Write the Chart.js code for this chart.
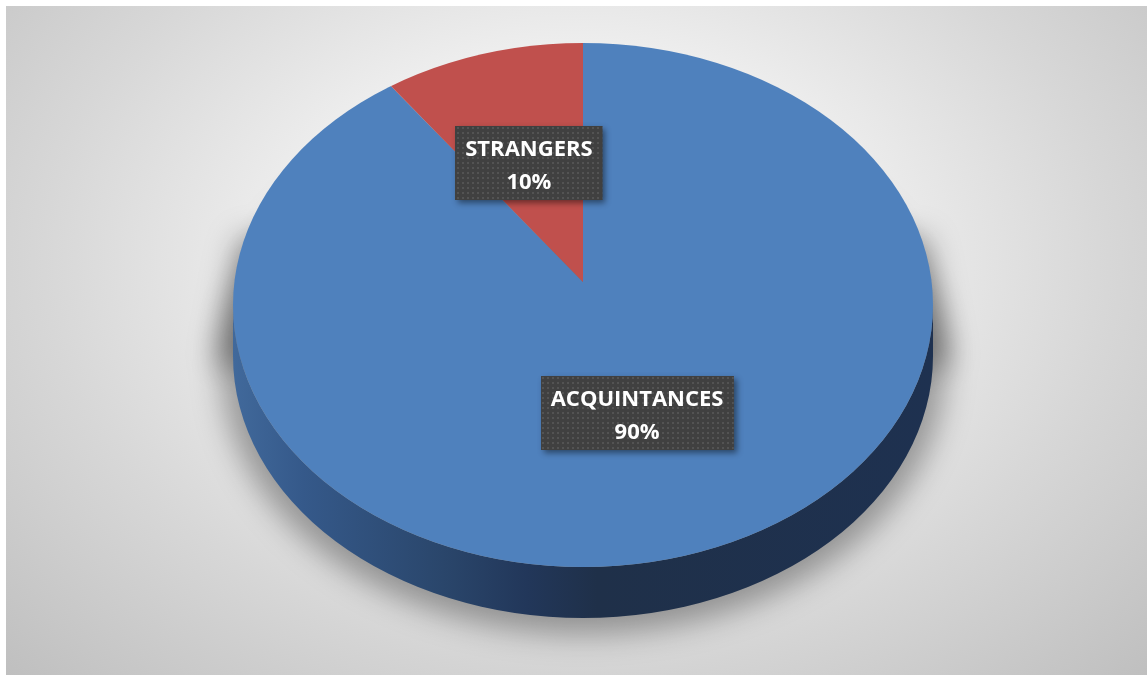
<!DOCTYPE html>
<html>
<head>
<meta charset="utf-8">
<script src="https://cdn.jsdelivr.net/npm/chart.js@4/dist/chart.umd.min.js"></script>
<style>
  html, body { margin: 0; padding: 0; background: #ffffff; }
  #wrap { position: absolute; left: 0; top: 0; width: 1147px; height: 675px; }
  #frame { position: absolute; left: 6px; top: 6px; width: 1141px; height: 669px;
    background: radial-gradient(farthest-corner at 50% 38%, #ffffff 0%, #efefef 35%, #d7d7d7 66%, #bfbfbf 100%); }
  #c { position: absolute; left: 0; top: 0; }
</style>
</head>
<body>
<div id="wrap">
  <div id="frame"></div>
  <canvas id="c" width="1147" height="675"></canvas>
</div>
<script>
const categories = ['ACQUINTANCES', 'STRANGERS'];
const values = [90, 10];
const percentLabels = ['90%', '10%'];
const sliceColors = ['#4F81BD', '#C0504D'];

// style constants (perspective look)
const FACE_RX = 350;          // visible top-face half width
const FACE_RY = 262;          // visible top-face half height
const FACE_OFFSET_Y = 23;     // face centre lies below the pie's vanishing centre
const DRAW_RX = 394;          // drawn pie half width before clipping
const DRAW_RY = 292;          // drawn pie half height before clipping
const DEPTH = 51;             // 3D side depth
const LABEL_FRACTION = 0.5;
const LABEL_SHIFT_Y = -17;

let dotPattern = null;
function getPattern(ctx) {
  if (dotPattern) return dotPattern;
  const p = document.createElement('canvas');
  p.width = 5; p.height = 5;
  const pc = p.getContext('2d');
  pc.fillStyle = '#404040';
  pc.fillRect(0, 0, 5, 5);
  pc.fillStyle = '#535353';
  pc.fillRect(2, 2, 2, 2);
  dotPattern = ctx.createPattern(p, 'repeat');
  return dotPattern;
}

const pie3d = {
  id: 'pie3d',
  beforeDatasetsDraw(chart) {
    const ctx = chart.ctx;
    const arc = chart.getDatasetMeta(0).data[0];
    const cx = arc.x, r = arc.outerRadius;
    const fy = arc.y + FACE_OFFSET_Y;
    const rx = FACE_RX, ry = FACE_RY;

    // soft shadow behind the cylinder
    ctx.save();
    ctx.shadowColor = 'rgba(0,0,0,0.34)';
    ctx.shadowBlur = 30;
    ctx.shadowOffsetX = 10000;
    ctx.shadowOffsetY = 10;
    ctx.fillStyle = '#000';
    ctx.beginPath();
    ctx.ellipse(cx - 10000, fy + DEPTH, rx + 12, ry + 6, 0, 0, Math.PI * 2);
    ctx.fill();
    ctx.beginPath();
    ctx.moveTo(cx - 10000 - rx + 6, fy - ry * 0.3);
    ctx.lineTo(cx - 10000 + rx - 6, fy - ry * 0.3);
    ctx.lineTo(cx - 10000 + rx + 18, fy + DEPTH);
    ctx.lineTo(cx - 10000 - rx - 18, fy + DEPTH);
    ctx.closePath();
    ctx.fill();
    ctx.restore();

    // side of the cylinder
    const g = ctx.createLinearGradient(cx - rx, 0, cx + rx, 0);
    g.addColorStop(0, '#41699B');
    g.addColorStop(0.10, '#35598A');
    g.addColorStop(0.30, '#2A466B');
    g.addColorStop(0.42, '#22375A');
    g.addColorStop(0.52, '#1F3049');
    g.addColorStop(1, '#1E3150');
    ctx.save();
    ctx.fillStyle = g;
    ctx.beginPath();
    ctx.moveTo(cx + rx, fy);
    ctx.lineTo(cx + rx, fy + DEPTH);
    ctx.ellipse(cx, fy + DEPTH, rx, ry, 0, 0, Math.PI, false);
    ctx.lineTo(cx - rx, fy);
    ctx.ellipse(cx, fy, rx, ry, 0, Math.PI, 0, true);
    ctx.closePath();
    ctx.fill();
    ctx.restore();

    // clip to the top face and stretch the pie with a perspective-like offset
    ctx.save();
    ctx.beginPath();
    ctx.ellipse(cx, fy, rx, ry, 0, 0, Math.PI * 2);
    ctx.clip();
    ctx.translate(cx, arc.y);
    ctx.scale(DRAW_RX / r, DRAW_RY / r);
    ctx.translate(-cx, -arc.y);
  },
  afterDatasetsDraw(chart) {
    const ctx = chart.ctx;
    ctx.restore();
    const meta = chart.getDatasetMeta(0);
    ctx.save();
    ctx.font = 'bold 22px "Open Sans"';
    meta.data.forEach((arc, i) => {
      const mid = (arc.startAngle + arc.endAngle) / 2;
      const fy = arc.y + FACE_OFFSET_Y;
      const px = arc.x + Math.cos(mid) * FACE_RX * LABEL_FRACTION;
      const py = fy + Math.sin(mid) * FACE_RY * LABEL_FRACTION + LABEL_SHIFT_Y;
      const l1 = categories[i], l2 = percentLabels[i];
      const w = Math.max(ctx.measureText(l1).width, ctx.measureText(l2).width) + 20;
      const h = 74;
      const bx = Math.round(px - w / 2), by = Math.round(py - h / 2);
      ctx.save();
      ctx.shadowColor = 'rgba(0,0,0,0.45)';
      ctx.shadowBlur = 6;
      ctx.shadowOffsetX = 3;
      ctx.shadowOffsetY = 3;
      ctx.fillStyle = '#404040';
      ctx.fillRect(bx, by, w, h);
      ctx.restore();
      ctx.fillStyle = getPattern(ctx);
      ctx.fillRect(bx, by, w, h);
      ctx.fillStyle = '#ffffff';
      ctx.textAlign = 'center';
      ctx.textBaseline = 'alphabetic';
      ctx.fillText(l1, px, by + 37 - 7);
      ctx.fillText(l2, px, by + 37 + 26);
    });
    ctx.restore();
  }
};

new Chart(document.getElementById('c'), {
  type: 'pie',
  data: {
    labels: categories,
    datasets: [{
      data: values,
      backgroundColor: sliceColors,
      borderWidth: 0,
      radius: 262,
      clip: false
    }]
  },
  options: {
    responsive: false,
    animation: false,
    layout: { padding: { left: 19, right: 0, top: 0, bottom: 111 } },
    plugins: {
      legend: { display: false },
      tooltip: { enabled: false }
    }
  },
  plugins: [pie3d]
});
</script>
</body>
</html>
